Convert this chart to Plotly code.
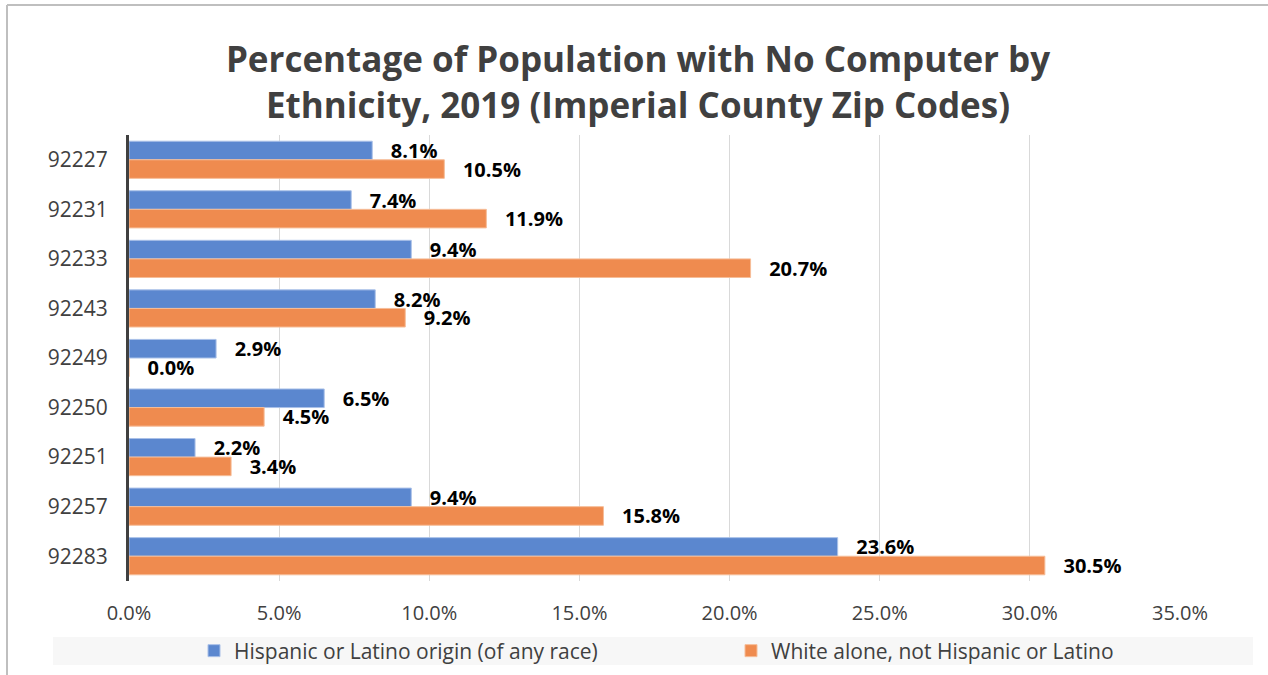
import plotly.graph_objects as go

zip_codes = ["92227", "92231", "92233", "92243", "92249", "92250", "92251", "92257", "92283"]
hispanic = [8.1, 7.4, 9.4, 8.2, 2.9, 6.5, 2.2, 9.4, 23.6]
white = [10.5, 11.9, 20.7, 9.2, 0.0, 4.5, 3.4, 15.8, 30.5]
series_names = ["Hispanic or Latino origin (of any race)", "White alone, not Hispanic or Latino"]
x_ticks = [0, 5, 10, 15, 20, 25, 30, 35]
title_text = "Percentage of Population with No Computer by<br>Ethnicity, 2019 (Imperial County Zip Codes)"

BLUE = "#5b87cf"
ORANGE = "#ef8b4f"
FONT = "'Open Sans', sans-serif"
LABEL_FONT = dict(family=FONT, size=20, color="#000000", weight="bold")

L, R, T, B = 129, 88, 135, 94
W, H = 1268, 675
pw, ph = W - L - R, H - T - B
def px(x): return (x - L) / pw
def py(y): return (H - B - y) / ph

fig = go.Figure()
for i, (vals, name, color, edge) in enumerate(((hispanic, series_names[0], BLUE, "#a9c0e8"),
                                              (white, series_names[1], ORANGE, "#f6bd98"))):
    fig.add_trace(go.Bar(
        y=zip_codes, x=vals, name=name, orientation="h",
        marker=dict(color=color, line=dict(color=edge, width=1)),
        text=[f"   {v:.1f}%" for v in vals], textposition="outside",
        constraintext="none", cliponaxis=False, textfont=LABEL_FONT,
        hoverinfo="x+y", legend="legend" if i == 0 else "legend2",
    ))

shapes = [
    dict(type="rect", xref="paper", yref="paper", x0=px(53), x1=px(1253), y0=py(665), y1=py(637),
         fillcolor="#f7f7f7", line=dict(width=0), layer="below"),
    dict(type="line", xref="paper", yref="paper", x0=px(7), x1=px(1268), y0=py(5), y1=py(5),
         line=dict(color="#bfbfbf", width=2)),
    dict(type="line", xref="paper", yref="paper", x0=px(7), x1=px(7), y0=py(5), y1=py(675),
         line=dict(color="#bfbfbf", width=2)),
]

legend_common = dict(orientation="h", xanchor="left", yanchor="middle", y=py(651),
                     bgcolor="rgba(0,0,0,0)", itemclick=False,
                     font=dict(family=FONT, size=21, color="#404040"))

fig.update_layout(
    width=W, height=H,
    margin=dict(l=L, r=R, t=T, b=B, autoexpand=False),
    paper_bgcolor="white", plot_bgcolor="white",
    barmode="group", bargap=0.25, bargroupgap=0.0,
    title=dict(text=title_text, x=638 / W, xref="container", xanchor="center",
               y=1 - 72 / H, yanchor="middle",
               font=dict(family=FONT, size=35, color="#404040", weight="bold")),
    font=dict(family=FONT, color="#404040"),
    xaxis=dict(range=[0, 35], tickvals=x_ticks, ticktext=[f"{t:.1f}%" for t in x_ticks],
               showgrid=True, gridcolor="#d9d9d9", gridwidth=1, zeroline=False,
               showline=False, ticks="", ticklabelstandoff=18,
               tickfont=dict(family=FONT, size=20, color="#404040")),
    yaxis=dict(type="category", categoryorder="array", categoryarray=zip_codes,
               autorange="reversed", showgrid=False, zeroline=False,
               showline=True, linecolor="#404040", linewidth=3, ticks="", ticklabelstandoff=14,
               tickfont=dict(family=FONT, size=21, color="#404040")),
    legend=dict(x=px(194), **legend_common),
    legend2=dict(x=px(731), **legend_common),
    shapes=shapes,
    showlegend=True,
)

fig.write_html("out.html", config={"displayModeBar": False},
               post_script="document.body.style.margin='0px';")
